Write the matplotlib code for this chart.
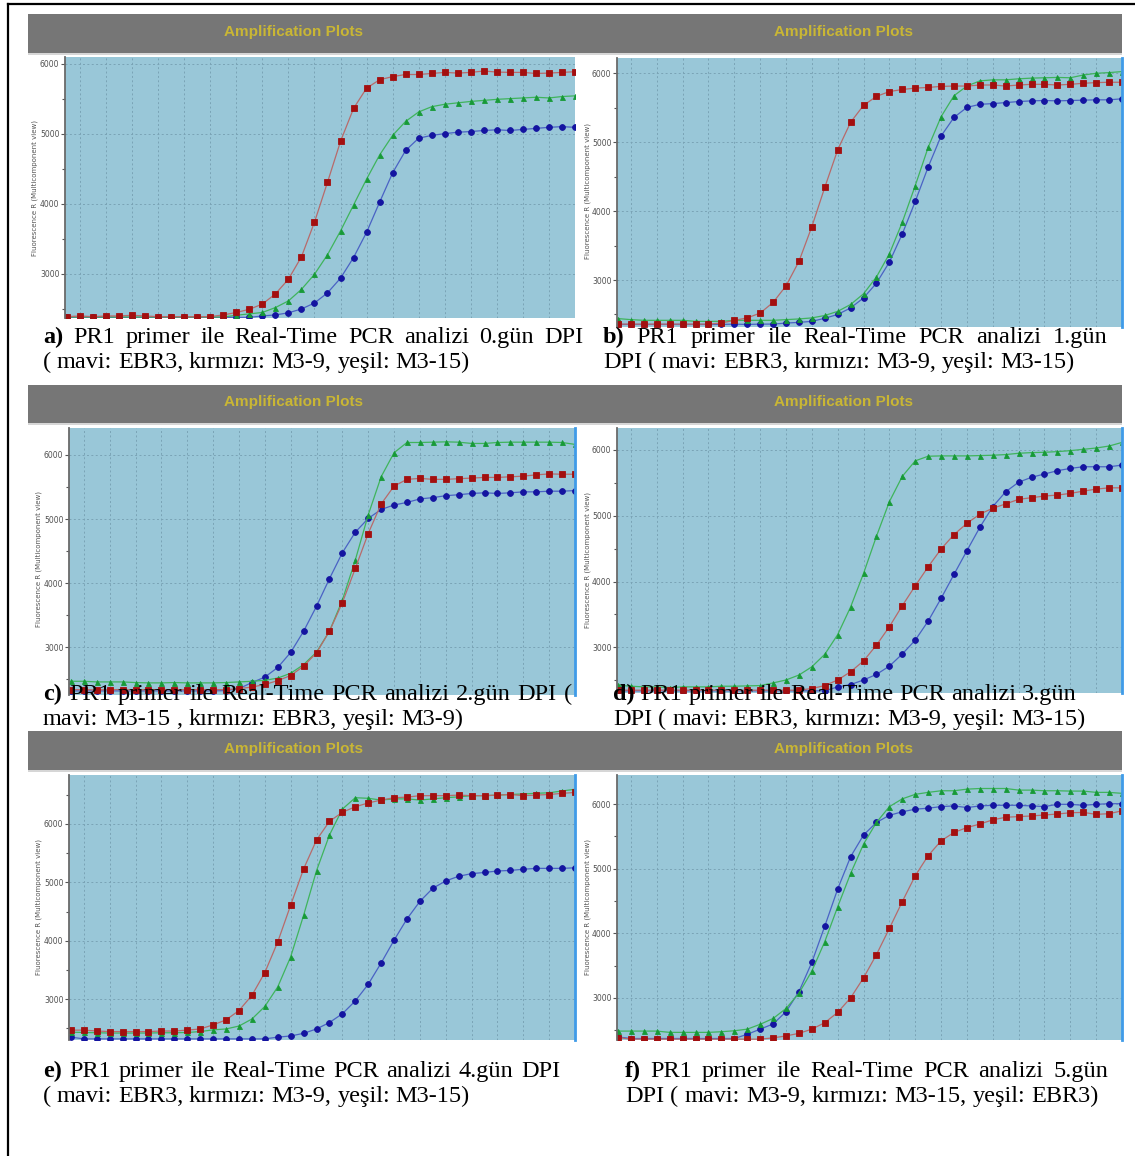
import matplotlib
matplotlib.use("Agg")
import matplotlib.pyplot as plt
from matplotlib.patches import Rectangle
from matplotlib.lines import Line2D
import numpy as np

W, H = 1135, 1156

cycles = list(range(1, 41))
tick_values = [3000, 4000, 5000, 6000]
tick_labels = ["3000", "4000", "5000", "6000"]
minor_values = [2500, 3500, 4500, 5500, 6500]
y_label = "Fluorescence R (Multicomponent view)"
header_title = "Amplification Plots"

# ---- panel a (0. gün) ----
blue_a = [2380, 2380, 2380, 2380, 2380, 2380, 2380, 2380, 2380, 2380, 2380, 2380, 2380, 2380, 2380,
          2400, 2415, 2445, 2500, 2585, 2730, 2940, 3235, 3595, 4025, 4445, 4765, 4940, 4980, 5005,
          5025, 5035, 5050, 5060, 5050, 5065, 5080, 5095, 5105, 5095]
green_a = [2385, 2385, 2385, 2385, 2385, 2385, 2385, 2385, 2385, 2385, 2385, 2385, 2385, 2410, 2430,
           2450, 2520, 2615, 2780, 2995, 3275, 3615, 3985, 4355, 4700, 4980, 5180, 5315, 5390, 5425,
           5445, 5465, 5480, 5495, 5505, 5515, 5525, 5515, 5535, 5545]
red_a = [2390, 2400, 2390, 2400, 2400, 2410, 2400, 2390, 2390, 2390, 2390, 2390, 2415, 2450, 2495,
         2570, 2715, 2925, 3245, 3740, 4310, 4895, 5365, 5655, 5775, 5820, 5850, 5850, 5865, 5880,
         5870, 5880, 5900, 5885, 5880, 5880, 5865, 5870, 5880, 5890]

# ---- panel b (1. gün) ----
blue_b = [2355, 2355, 2355, 2355, 2355, 2355, 2355, 2355, 2355, 2360, 2355, 2360, 2360, 2375, 2385,
          2400, 2445, 2500, 2595, 2740, 2955, 3260, 3670, 4140, 4640, 5090, 5360, 5505, 5550, 5560,
          5575, 5590, 5600, 5605, 5600, 5605, 5610, 5615, 5615, 5630]
green_b = [2440, 2425, 2415, 2415, 2415, 2415, 2400, 2400, 2400, 2415, 2415, 2415, 2415, 2425, 2435,
           2450, 2485, 2545, 2645, 2800, 3045, 3380, 3840, 4370, 4925, 5370, 5675, 5815, 5890, 5905,
           5905, 5920, 5930, 5935, 5940, 5935, 5975, 6000, 6010, 6025]
red_b = [2360, 2360, 2360, 2360, 2360, 2360, 2360, 2360, 2375, 2415, 2450, 2520, 2675, 2915, 3270,
         3775, 4345, 4890, 5290, 5535, 5665, 5735, 5765, 5785, 5795, 5810, 5815, 5815, 5830, 5830,
         5815, 5830, 5840, 5840, 5830, 5840, 5855, 5865, 5870, 5870]

# ---- panel c (2. gün) ----
blue_c = [2320, 2320, 2320, 2320, 2320, 2320, 2320, 2320, 2320, 2320, 2320, 2320, 2325, 2355, 2450,
          2535, 2685, 2920, 3250, 3640, 4070, 4475, 4795, 5010, 5150, 5220, 5260, 5315, 5335, 5365,
          5380, 5400, 5410, 5400, 5410, 5425, 5425, 5435, 5435, 5445]
green_c = [2470, 2470, 2460, 2460, 2460, 2450, 2445, 2445, 2450, 2445, 2445, 2445, 2450, 2460, 2470,
           2485, 2520, 2595, 2730, 2925, 3250, 3735, 4360, 5065, 5660, 6035, 6195, 6195, 6200, 6205,
           6200, 6180, 6180, 6195, 6200, 6200, 6200, 6200, 6195, 6165]
red_c = [2340, 2340, 2335, 2340, 2340, 2335, 2340, 2340, 2340, 2340, 2340, 2340, 2340, 2355, 2380,
         2420, 2480, 2560, 2705, 2915, 3250, 3695, 4230, 4775, 5235, 5515, 5620, 5635, 5620, 5620,
         5630, 5640, 5650, 5650, 5660, 5670, 5690, 5705, 5700, 5700]

# ---- panel d (3. gün) ----
blue_d = [2340, 2340, 2340, 2340, 2340, 2340, 2340, 2340, 2340, 2340, 2340, 2340, 2340, 2340, 2340,
          2340, 2340, 2400, 2435, 2505, 2590, 2715, 2900, 3110, 3400, 3745, 4110, 4470, 4825, 5140,
          5365, 5510, 5585, 5635, 5685, 5720, 5745, 5745, 5745, 5770]
green_d = [2425, 2410, 2400, 2400, 2390, 2400, 2400, 2400, 2410, 2410, 2415, 2420, 2460, 2505, 2580,
           2705, 2895, 3195, 3615, 4125, 4690, 5215, 5600, 5835, 5905, 5910, 5910, 5910, 5915, 5920,
           5930, 5950, 5960, 5965, 5975, 5990, 6010, 6030, 6060, 6115]
red_d = [2350, 2350, 2350, 2350, 2350, 2350, 2350, 2350, 2350, 2350, 2350, 2350, 2350, 2350, 2350,
         2375, 2420, 2505, 2630, 2795, 3035, 3315, 3635, 3935, 4225, 4495, 4715, 4885, 5025, 5115,
         5180, 5250, 5275, 5300, 5315, 5340, 5375, 5405, 5425, 5425]

# ---- panel e (4. gün) ----
blue_e = [2350, 2320, 2320, 2320, 2320, 2320, 2320, 2320, 2320, 2320, 2320, 2320, 2320, 2320, 2320,
          2320, 2350, 2370, 2415, 2490, 2600, 2750, 2970, 3255, 3620, 4010, 4375, 4675, 4900, 5025,
          5105, 5150, 5170, 5195, 5205, 5225, 5240, 5240, 5240, 5250]
green_e = [2435, 2430, 2425, 2420, 2420, 2420, 2420, 2425, 2425, 2430, 2445, 2475, 2490, 2540, 2660,
           2875, 3210, 3725, 4435, 5200, 5810, 6255, 6450, 6440, 6410, 6430, 6430, 6410, 6430, 6450,
           6465, 6485, 6485, 6495, 6505, 6515, 6525, 6535, 6565, 6595]
red_e = [2470, 2470, 2455, 2445, 2445, 2445, 2445, 2455, 2455, 2470, 2490, 2560, 2645, 2805, 3065,
         3455, 3980, 4610, 5230, 5725, 6045, 6200, 6295, 6360, 6410, 6450, 6460, 6485, 6485, 6485,
         6495, 6485, 6485, 6495, 6505, 6485, 6495, 6505, 6525, 6540]

# ---- panel f (5. gün) ----
blue_f = [2395, 2370, 2370, 2370, 2370, 2370, 2370, 2370, 2370, 2370, 2435, 2515, 2595, 2785, 3095,
          3550, 4110, 4685, 5185, 5520, 5715, 5825, 5880, 5920, 5935, 5960, 5970, 5945, 5970, 5980,
          5980, 5980, 5970, 5960, 5995, 5995, 5980, 5995, 6005, 6005]
green_f = [2485, 2485, 2485, 2485, 2465, 2465, 2465, 2465, 2475, 2490, 2515, 2590, 2680, 2835, 3070,
           3415, 3870, 4410, 4925, 5380, 5715, 5960, 6080, 6150, 6180, 6205, 6205, 6230, 6240, 6240,
           6240, 6215, 6215, 6205, 6205, 6200, 6200, 6180, 6180, 6165]
red_f = [2385, 2360, 2360, 2360, 2360, 2360, 2360, 2360, 2360, 2360, 2360, 2360, 2380, 2410, 2450,
         2515, 2615, 2775, 3000, 3310, 3670, 4075, 4490, 4890, 5200, 5430, 5560, 5635, 5690, 5755,
         5795, 5805, 5815, 5830, 5845, 5865, 5870, 5840, 5850, 5895]

captions_a = ["a) PR1 primer ile Real-Time PCR analizi 0.gün DPI",
              "( mavi: EBR3, kırmızı: M3-9, yeşil: M3-15)"]
captions_b = ["b) PR1 primer ile Real-Time PCR analizi 1.gün",
              "DPI ( mavi: EBR3, kırmızı: M3-9, yeşil: M3-15)"]
captions_c = ["c) PR1 primer ile Real-Time PCR analizi 2.gün DPI (",
              "mavi: M3-15 , kırmızı: EBR3, yeşil: M3-9)"]
captions_d = ["d) PR1 primer ile Real-Time PCR analizi 3.gün",
              "DPI ( mavi: EBR3, kırmızı: M3-9, yeşil: M3-15)"]
captions_e = ["e) PR1 primer ile Real-Time PCR analizi 4.gün DPI",
              "( mavi: EBR3, kırmızı: M3-9, yeşil: M3-15)"]
captions_f = ["f) PR1 primer ile Real-Time PCR analizi 5.gün",
              "DPI ( mavi: M3-9, kırmızı: M3-15, yeşil: EBR3)"]

# ---- styles ----
BG = "#99c7d8"
STYLE = {
    "red": dict(color="#b86a6a", marker="s", ms=4.0, mfc="#a30f0f", mec="#a30f0f"),
    "blue": dict(color="#4a62c4", marker="o", ms=4.2, mfc="#1414a0", mec="#1414a0"),
    "green": dict(color="#3fb45c", marker="^", ms=3.6, mfc="#179a37", mec="#179a37"),
}

panels = [
    dict(rect=(65, 57, 575, 318), ylim=(2371, 6100), xlim=(0.85, 40.0), ylab=(35, 188),
         series=[(blue_a, "blue"), (green_a, "green"), (red_a, "red")], edge=False,
         caps=captions_a, capbox=[(43, 583, 343), (43, 470, 368)]),
    dict(rect=(617, 58, 1122, 327), ylim=(2318, 6222), xlim=(0.92, 40.0), ylab=(588, 191),
         series=[(blue_b, "blue"), (green_b, "green"), (red_b, "red")], edge=True,
         caps=captions_b, capbox=[(603, 1108, 343), (603, 1075, 368)]),
    dict(rect=(69, 428, 575, 695), ylim=(2256, 6421), xlim=(0.85, 40.0), ylab=(39, 559),
         series=[(blue_c, "blue"), (green_c, "green"), (red_c, "red")], edge=True,
         caps=captions_c, capbox=[(43, 572, 700), (43, 463, 725)]),
    dict(rect=(617, 428, 1122, 693), ylim=(2307, 6334), xlim=(0.92, 40.0), ylab=(588, 560),
         series=[(blue_d, "blue"), (green_d, "green"), (red_d, "red")], edge=True,
         caps=captions_d, capbox=[(613, 1077, 700), (613, 1086, 725)]),
    dict(rect=(69, 775, 575, 1040), ylim=(2301, 6839), xlim=(0.85, 40.0), ylab=(39, 907),
         series=[(blue_e, "blue"), (green_e, "green"), (red_e, "red")], edge=True,
         caps=captions_e, capbox=[(43, 560, 1077), (43, 470, 1102)]),
    dict(rect=(617, 775, 1122, 1040), ylim=(2347, 6449), xlim=(0.92, 40.0), ylab=(588, 907),
         series=[(blue_f, "blue"), (green_f, "green"), (red_f, "red")], edge=True,
         caps=captions_f, capbox=[(625, 1108, 1077), (625, 1099, 1102)]),
]

header_rows = [(14, 53, 32), (385, 423, 402), (731, 770, 749)]
header_x = (28, 1122)
title_x = [294, 843]


def fx(x):
    return x / W


def fy(y):
    return 1 - y / H


fig = plt.figure(figsize=(W / 100, H / 100), dpi=100)
fig.patch.set_facecolor("white")

# outer frame
fig.add_artist(Line2D([fx(8), fx(8)], [0, fy(4)], color="black", lw=1.6))
fig.add_artist(Line2D([fx(8), 1], [fy(4), fy(4)], color="black", lw=1.6))

# headers
for (y0, y1, yc) in header_rows:
    fig.add_artist(Rectangle((fx(header_x[0]), fy(y1)), fx(header_x[1] - header_x[0]), (y1 - y0) / H,
                             transform=fig.transFigure, facecolor="#767676", edgecolor="none"))
    fig.add_artist(Rectangle((fx(header_x[0]), fy(y1 + 2)), fx(header_x[1] - header_x[0]), 2 / H,
                             transform=fig.transFigure, facecolor="#d6d6d6", edgecolor="none"))
    for tx in title_x:
        fig.text(fx(tx), fy(yc), header_title, ha="center", va="center", color="#c9b634",
                 fontsize=11, family="Liberation Sans", weight="bold")

for p in panels:
    x0, y0, x1, y1 = p["rect"]
    ax = fig.add_axes([fx(x0), fy(y1), fx(x1 - x0), (y1 - y0) / H])
    ax.set_facecolor(BG)
    for vals, key in p["series"]:
        st = STYLE[key]
        ax.plot(cycles, vals, color=st["color"], lw=0.9, marker=st["marker"], ms=st["ms"],
                mfc=st["mfc"], mec=st["mec"], mew=0.6, clip_on=True)
    ax.set_xticks(np.arange(2, 41, 2))
    ax.set_yticks(tick_values)
    ax.set_yticklabels(tick_labels)
    ax.set_yticks(minor_values, minor=True)
    ax.set_xlim(*p["xlim"])
    ax.set_ylim(*p["ylim"])
    ax.tick_params(axis="x", length=0, labelbottom=False)
    ax.tick_params(axis="y", which="major", direction="out", length=3, width=0.8, color="#555555",
                   labelsize=5.5, labelcolor="#505050", pad=1)
    ax.tick_params(axis="y", which="minor", direction="out", length=2, width=0.8, color="#555555")
    ax.grid(True, which="major", color="#7aa3b5", linestyle=(0, (2.0, 2.5)), linewidth=0.7)
    ax.set_axisbelow(True)
    for s in ("top", "bottom"):
        ax.spines[s].set_visible(False)
    ax.spines["left"].set_color("#6a6a6a")
    ax.spines["left"].set_linewidth(1.3)
    if p["edge"]:
        ax.spines["right"].set_color("#3f9be8")
        ax.spines["right"].set_linewidth(2.0)
    else:
        ax.spines["right"].set_visible(False)
    lx, ly = p["ylab"]
    fig.text(fx(lx), fy(ly), y_label, rotation=90, ha="center", va="center", fontsize=5.0,
             color="#555555", family="DejaVu Sans")

# captions (justified like the source document)
renderer = fig.canvas.get_renderer()
CAP_SIZE = 17.5
for p in panels:
    for li, (line, (cx0, cx1, cyb)) in enumerate(zip(p["caps"], p["capbox"])):
        words = line.split(" ")
        texts = []
        for wi, w in enumerate(words):
            bold = (li == 0 and wi == 0)
            t = fig.text(0, fy(cyb), w, fontsize=CAP_SIZE, family="Liberation Serif",
                         weight="bold" if bold else "normal", va="baseline", ha="left", color="black")
            texts.append(t)
        widths = [t.get_window_extent(renderer).width for t in texts]
        gap = (cx1 - cx0 - sum(widths)) / max(len(texts) - 1, 1)
        xpos = cx0
        for t, wd in zip(texts, widths):
            t.set_x(fx(xpos))
            xpos += wd + gap

fig.savefig("out.png", dpi=100)
